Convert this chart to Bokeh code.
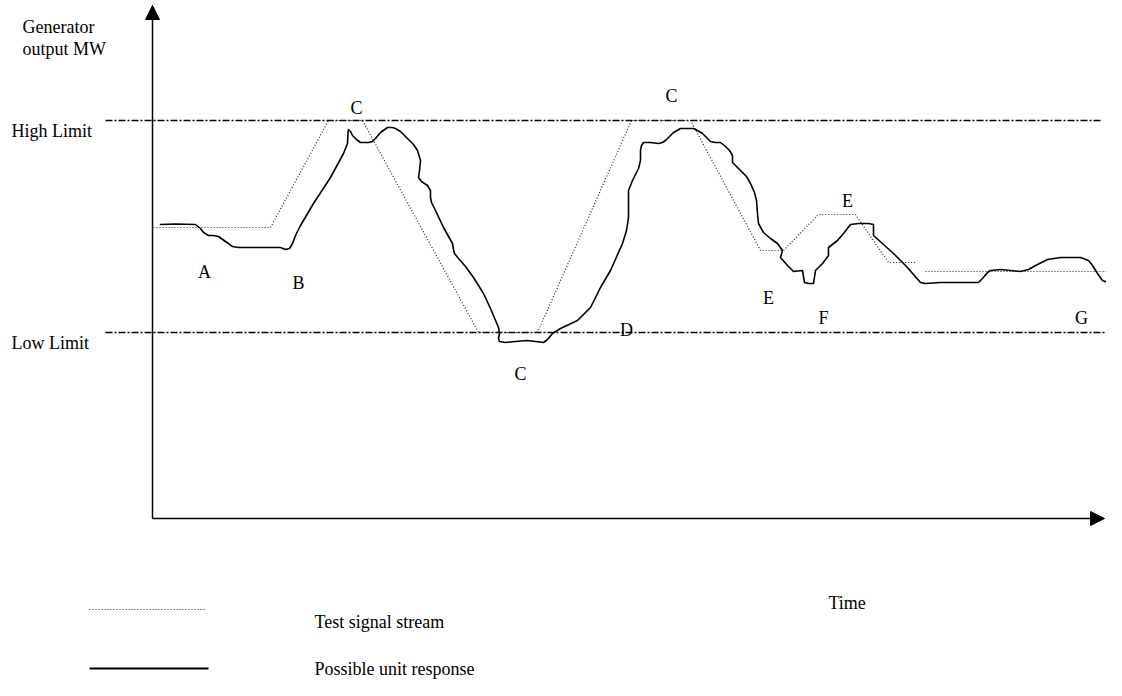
from bokeh.plotting import figure
from bokeh.models import Range1d, Arrow, NormalHead, ColumnDataSource
from bokeh.core.properties import value
from bokeh.embed import file_html
from bokeh.resources import INLINE

nan = float("nan")

# ---------------- data (time units, MW units) ----------------
HIGH_LIMIT = 398
LOW_LIMIT = 186

signal_t = [1, 118, 176, 210, 326, 385, 479, 538, 608, 631, 666, 703, 736, 763, nan, 773, 970]
signal_mw = [291, 291, 398, 398, 186, 186, 398, 398, 268, 268, 304, 304, 256, 256, nan, 247, 247]

response_t = [8, 23, 43, 48, 51, 56, 61, 66, 73, 80, 86, 98, 128, 133, 137, 140, 143, 148,
              161, 178, 191, 195, 195.5, 196, 198, 200, 204, 208, 216, 220, 223, 228, 235,
              240, 243, 248, 255, 261, 265, 268, 267, 266, 269, 275, 278, 278, 279, 283,
              291, 300, 301, 302, 306, 313, 321, 331, 338, 346, 347, 346, 347, 353, 363,
              375, 383, 391, 395, 400, 408, 425, 438, 448, 458, 470, 474, 476, 476, 476,
              480, 486, 488, 488, 489, 491, 498, 506, 510, 513, 517, 521, 528, 541, 545,
              550, 554, 558, 563, 568, 573, 577, 580, 580, 584, 588, 594, 598, 602, 604,
              605, 606, 611, 618, 625, 630, 628, 635, 641, 650, 652, 656, 661, 663, 670,
              676, 676, 685, 691, 698, 706, 716, 721, 721, 741, 754, 768, 773, 788, 826,
              830, 835, 838, 848, 868, 876, 885, 895, 908, 928, 936, 940, 945, 950, 955,
              958, 961, 968]
response_mw = [294, 294.5, 294, 290, 286, 283, 283, 282, 277, 272, 271, 271, 271, 269, 270,
               275, 283, 293, 315, 341, 365, 375, 386, 389, 387, 383, 379, 376, 376, 377,
               380, 386, 391, 391, 390, 387, 380, 374, 368, 358, 348, 341, 337, 333, 328,
               321, 316, 308, 291, 275, 269, 265, 260, 252, 241, 225, 210, 191, 185, 180,
               177, 176, 177, 178, 177, 176, 179, 185, 190, 198, 211, 231, 248, 275, 288,
               301, 318, 328, 338, 350, 358, 368, 373, 376, 376, 375, 376, 378, 382, 386,
               390, 390, 388, 385, 381, 377, 376, 376, 372, 368, 363, 356, 352, 348, 342,
               335, 326, 318, 305, 295, 286, 280, 275, 268, 261, 253, 247, 248, 236, 235,
               235, 248, 255, 263, 271, 278, 285, 294, 295, 295, 294, 283, 265, 252, 236,
               235, 236, 236, 240, 246, 248, 249, 247, 249, 254, 259, 261, 261, 258, 253,
               245, 238, 236, 238, 241, 248]

point_labels = ["A", "B", "C", "C", "D", "C", "E", "F", "E", "G"]
point_t = [52, 146, 204, 368, 474, 519, 616, 671, 695, 929]
point_mw = [247, 236, 411, 145, 189, 423, 221, 201, 318, 201]

# ---------------- layout / styles ----------------
FONT = value("Liberation Serif")
FS = "18px"
DASHDOT = "7 2 2 2"
DOTTED = "1 2"

p = figure(width=1106, height=680, x_range=Range1d(-152, 954), y_range=Range1d(-162, 518),
           output_backend="svg", toolbar_location=None, min_border=0,
           x_axis_type=None, y_axis_type=None)
p.grid.visible = False
p.outline_line_color = None
p.background_fill_color = "white"

# limit lines (dash-dot)
p.line(x=[-47, 948], y=[HIGH_LIMIT, HIGH_LIMIT], line_color="black", line_width=1.4,
       line_dash=DASHDOT)
p.line(x=[-47, 956], y=[LOW_LIMIT, LOW_LIMIT], line_color="black", line_width=1.4,
       line_dash=DASHDOT)

# axes with arrows
p.add_layout(Arrow(end=NormalHead(size=14, fill_color="black", line_color="black"),
                   x_start=0, y_start=0, x_end=0, y_end=513,
                   line_color="black", line_width=1.5))
p.add_layout(Arrow(end=NormalHead(size=14, fill_color="black", line_color="black"),
                   x_start=0, y_start=0, x_end=952, y_end=0,
                   line_color="black", line_width=1.5))

# series
p.line(x=signal_t, y=signal_mw, line_color="#222222", line_width=1.2, line_dash=DOTTED)
p.line(x=response_t, y=response_mw, line_color="black", line_width=1.6,
       line_join="round", line_cap="round")

# point letters
src = ColumnDataSource(dict(x=point_t, y=point_mw, text=point_labels))
p.text(x="x", y="y", text="text", source=src, text_font=FONT, text_font_size=FS,
       text_align="center", text_baseline="alphabetic", text_color="black")

# axis texts
p.text(x=[-130, -130, -141, -141, 676], y=[492, 470, 388, 176, -84],
       text=["Generator", "output MW", "High Limit", "Low Limit", "Time"],
       text_font=FONT, text_font_size=FS, text_align="left",
       text_baseline="alphabetic", text_color="black")

# legend
p.line(x=[-63, 53], y=[-91, -91], line_color="#222222", line_width=1.2, line_dash=DOTTED)
p.line(x=[-63, 56], y=[-150, -150], line_color="black", line_width=2)
p.text(x=[162, 162], y=[-103, -150], text=["Test signal stream", "Possible unit response"],
       text_font=FONT, text_font_size=FS, text_align="left",
       text_baseline="alphabetic", text_color="black")

open("out.html", "w").write(file_html(p, INLINE))
